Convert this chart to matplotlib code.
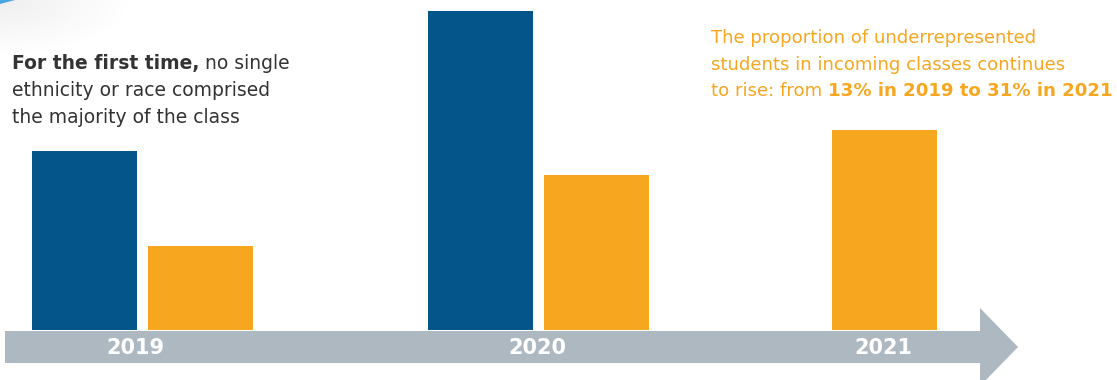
import numpy as np
import matplotlib
matplotlib.use("Agg")
import matplotlib.pyplot as plt
from matplotlib.patches import Polygon

plt.rcParams['font.family'] = ['DejaVu Sans']

# data (percent of incoming class)
years = ["2019", "2020", "2021"]
blue_vals = [27.7, 49.5, None]     # largest single group
orange_vals = [13, 24, 31]         # underrepresented students

BLUE = "#04568A"
ORANGE = "#F6A61F"
GRAY = "#ADB8C1"
TEXT = "#333333"

W, H = 1117, 380
fig = plt.figure(figsize=(W / 100, H / 100), dpi=100)

# background axes in pixel units for the decoration
bg = fig.add_axes([0, 0, 1, 1])
bg.set_xlim(0, W)
bg.set_ylim(H, 0)
bg.axis("off")

# faint swoosh in the top-left corner
yy, xx = np.mgrid[0:60, 0:130]
d = np.sqrt((xx / 130.0) ** 2 + (yy / 55.0) ** 2)
alpha = np.clip(1 - d, 0, 1) * 0.14
img = np.zeros((60, 130, 4))
img[..., :3] = 0.55
img[..., 3] = alpha
bg.imshow(img, extent=(0, 130, 60, 0), zorder=0)
bg.add_patch(Polygon([(0, 0), (15, 0), (0, 4)], closed=True, color="#4AA3E2", lw=0, zorder=1))

# timeline arrow
shaft_top, shaft_bot = 331, 363
arrow = Polygon([(5, shaft_top), (980, shaft_top), (980, 308), (1018, 347),
                 (980, 386), (980, shaft_bot), (5, shaft_bot)],
                closed=True, color=GRAY, lw=0, zorder=2)
bg.add_patch(arrow)

# bar axes: baseline sits on top of the arrow
base_px = 330
px_per_pct = 6.45
ax = fig.add_axes([0, (H - base_px) / H, 1, base_px / H])
ax.patch.set_alpha(0)
step = 395.5
x0 = 142.5
ax.set_xlim(-x0 / step, (W - x0) / step)
ax.set_ylim(0, base_px / px_per_pct)
ax.axis("off")

pos = [0, 1, (884.5 - x0) / step]
bw = 105 / step
off = 58 / step
for i, yr in enumerate(years):
    if blue_vals[i] is not None:
        ax.bar(pos[i] - off, blue_vals[i], width=bw, color=BLUE, zorder=3)
        ax.bar(pos[i] + off, orange_vals[i], width=bw, color=ORANGE, zorder=3)
    else:
        ax.bar(pos[i], orange_vals[i], width=bw, color=ORANGE, zorder=3)

label_x = [135, 537, 883]
for lx, yr in zip(label_x, years):
    bg.text(lx, 348, yr, color="white", fontsize=15, fontweight="bold",
            ha="center", va="center", zorder=4)

fig.canvas.draw()
renderer = fig.canvas.get_renderer()


def mixed_line(x, y, parts, color, size):
    # parts: list of (text, weight); draws them one after another, returns artists and right edge
    arts = []
    for txt, wt in parts:
        t = bg.text(x, y, txt, color=color, fontsize=size, fontweight=wt,
                    ha="left", va="baseline")
        arts.append(t)
        bb = t.get_window_extent(renderer=renderer)
        x = bg.transData.inverted().transform((bb.x1, bb.y0))[0]
    return arts, x


def text_block(x, lines, color, size, max_right):
    # draw the block, shrink the font if the widest line passes max_right
    arts = []
    right = 0
    for y, parts in lines:
        a, r = mixed_line(x, y, parts, color, size)
        arts += a
        right = max(right, r)
    if right > max_right:
        for a in arts:
            a.remove()
        size = size * (max_right - x) / (right - x)
        for y, parts in lines:
            mixed_line(x, y, parts, color, size)


left_lines = [
    (69, [("For the first time,", "bold"), (" no single", "normal")]),
    (96, [("ethnicity or race comprised", "normal")]),
    (123, [("the majority of the class", "normal")]),
]
text_block(12, left_lines, TEXT, 13.5, 296)

right_lines = [
    (43, [("The proportion of underrepresented", "normal")]),
    (70, [("students in incoming classes continues", "normal")]),
    (96, [("to rise: from ", "normal"), ("13% in 2019 to 31% in 2021", "bold")]),
]
text_block(711, right_lines, ORANGE, 14.3, 1113)

fig.savefig("out.png", dpi=100)
